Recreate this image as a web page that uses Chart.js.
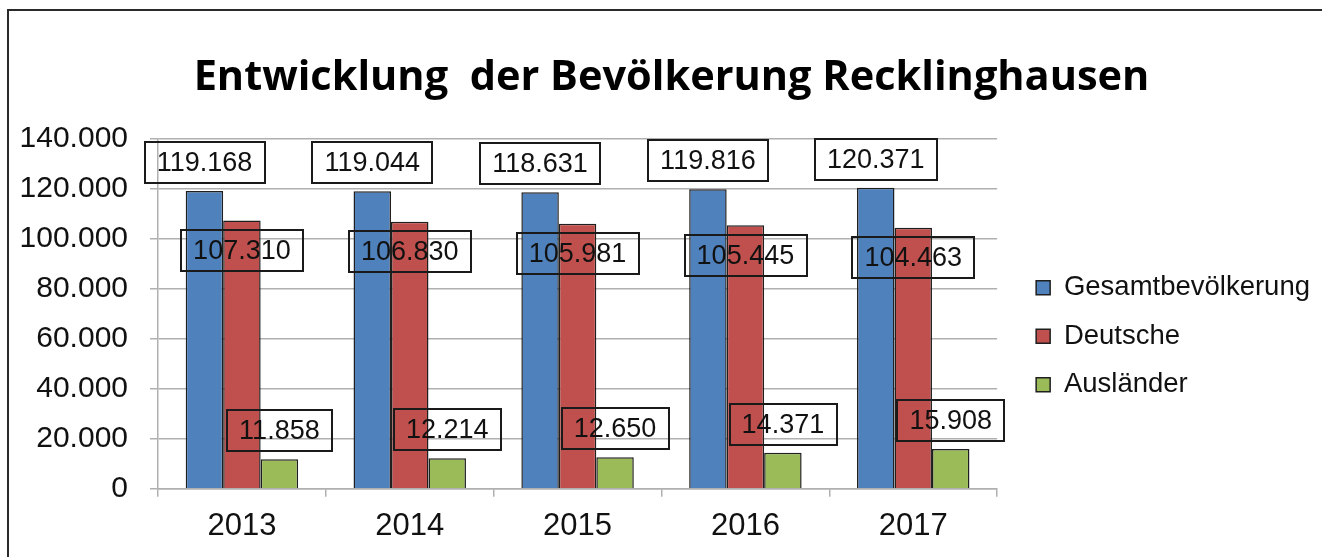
<!DOCTYPE html>
<html><head><meta charset="utf-8">
<script src="https://cdn.jsdelivr.net/npm/chart.js@4.4.0/dist/chart.umd.min.js"></script>
<style>
html,body{margin:0;padding:0;background:#fff;}
#wrap{position:relative;width:1322px;height:557px;overflow:hidden;background:#fff;}
#frame{position:absolute;left:7px;top:9px;width:1400px;height:600px;border-left:2px solid #2a2a2a;border-top:2px solid #2a2a2a;}
canvas{position:absolute;left:0;top:0;}
</style></head><body>
<div id="wrap"><div id="frame"></div><canvas id="c" width="1322" height="557"></canvas></div>
<script>
const chartTitle = 'Entwicklung  der Bevölkerung Recklinghausen';
const years = ['2013', '2014', '2015', '2016', '2017'];
const seriesNames = ['Gesamtbevölkerung', 'Deutsche', 'Ausländer'];
const gesamt = [119168, 119044, 118631, 119816, 120371];
const deutsche = [107310, 106830, 105981, 105445, 104463];
const auslaender = [11858, 12214, 12650, 14371, 15908];
const yTickLabels = ['0', '20.000', '40.000', '60.000', '80.000', '100.000', '120.000', '140.000'];
const seriesColors = ['#4F81BD', '#C0504D', '#9BBB59'];

const fmt = v => String(v).replace(/\B(?=(\d{3})+(?!\d))/g, '.');
const SANS = '"Liberation Sans", Arial, sans-serif';

const boxLabels = {
  id: 'boxLabels',
  afterDatasetsDraw(chart) {
    const ctx = chart.ctx;
    ctx.save();
    ctx.font = '27px ' + SANS;
    ctx.textAlign = 'center';
    ctx.textBaseline = 'middle';
    chart.data.datasets.forEach((ds, di) => {
      const meta = chart.getDatasetMeta(di);
      meta.data.forEach((bar, i) => {
        const txt = fmt(ds.data[i]);
        const w = ctx.measureText(txt).width + 24;
        const h = 41;
        const cx = bar.x;
        const cy = di === 1 ? bar.y + 30 : bar.y - 8 - h / 2;
        ctx.lineWidth = 2;
        ctx.strokeStyle = '#1a1a1a';
        ctx.strokeRect(Math.round(cx - w / 2), Math.round(cy - h / 2), Math.round(w), h);
        ctx.fillStyle = '#111';
        ctx.fillText(txt, cx, cy + 1);
      });
    });
    ctx.restore();
  }
};

const layoutShift = {
  id: 'layoutShift',
  afterLayout(chart) {
    const l = chart.legend;
    if (l) { l.left += 18; l.right += 18; l.top += 22.5; l.bottom += 22.5; }
    const t = chart.titleBlock;
    if (t) { t.left += 10.5; t.right += 10.5; }
  }
};

const seriesData = [gesamt, deutsche, auslaender];

new Chart(document.getElementById('c'), {
  type: 'bar',
  data: {
    labels: years,
    datasets: seriesNames.map((n, k) => ({
      label: n,
      data: seriesData[k],
      backgroundColor: seriesColors[k],
      borderColor: '#1f1f1f',
      borderWidth: 1.5,
      categoryPercentage: 0.67,
      barPercentage: 1.0
    }))
  },
  options: {
    responsive: false,
    animation: false,
    layout: { padding: { left: 20, right: 20, top: 0, bottom: 1 } },
    plugins: {
      title: {
        display: true,
        text: chartTitle,
        color: '#000',
        font: { family: '"Open Sans", sans-serif', size: 41.5, weight: 'bold' },
        padding: { top: 53, bottom: 36 }
      },
      legend: {
        position: 'right',
        fullSize: false,
        labels: {
          color: '#111',
          font: { family: SANS, size: 27.5 },
          boxWidth: 14,
          boxHeight: 14,
          padding: 21
        }
      },
      tooltip: { enabled: false }
    },
    scales: {
      x: {
        grid: { display: true, drawOnChartArea: false, drawTicks: true, tickLength: 8, color: '#b0b0b0', lineWidth: 1.5, offset: true },
        border: { display: true, color: '#b0b0b0', width: 1.5 },
        ticks: { color: '#111', font: { family: SANS, size: 31 }, padding: 11 }
      },
      y: {
        min: 0, max: 140000,
        afterFit: (scale) => { scale.width = 138; },
        grid: { color: '#b0b0b0', lineWidth: 1.5, tickLength: 8 },
        border: { display: true, color: '#b0b0b0', width: 1.5 },
        ticks: {
          stepSize: 20000,
          color: '#111',
          font: { family: SANS, size: 30 },
          padding: 22,
          callback: (v, i) => yTickLabels[i]
        }
      }
    }
  },
  plugins: [boxLabels, layoutShift]
});
</script>
</body></html>
